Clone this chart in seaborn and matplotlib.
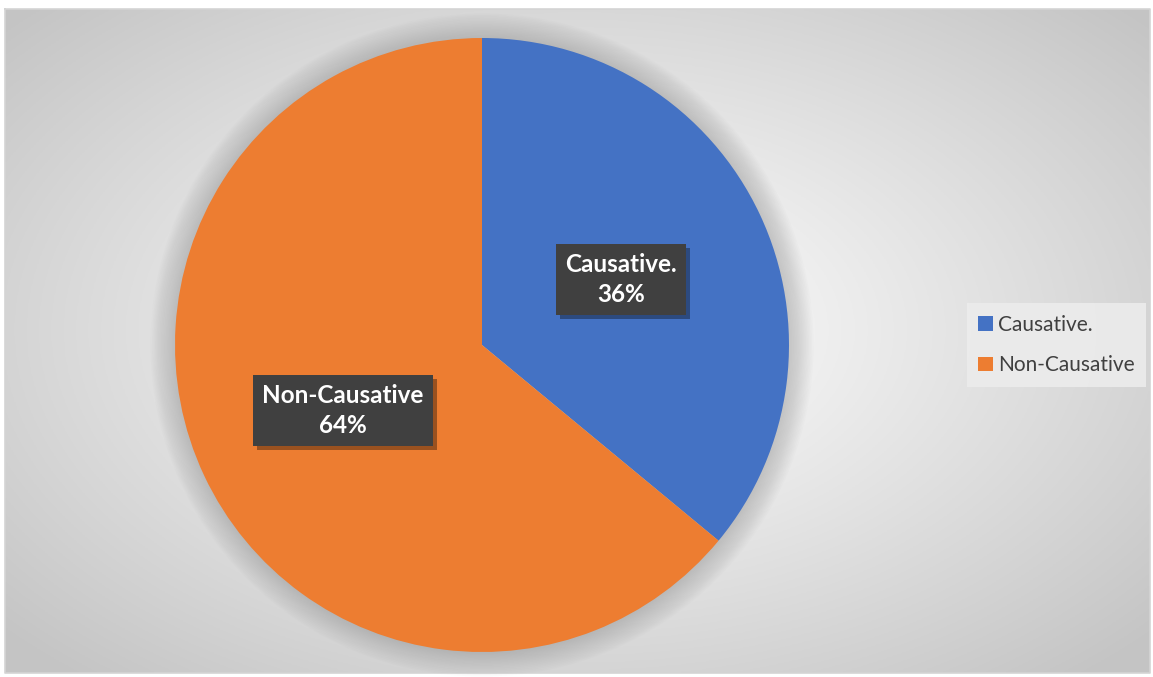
import numpy as np
import matplotlib.pyplot as plt
import matplotlib.patheffects as pe
from matplotlib.patches import Patch, Circle
import seaborn as sns

# data
categories = ['Causative.', 'Non-Causative']
shares = [36, 64]
colors = ['#4472C4', '#ED7D31']

sns.set_theme(style='white')
plt.rcParams['font.family'] = ['Lato', 'DejaVu Sans']

W, H = 1153, 677
fig = plt.figure(figsize=(W / 100, H / 100), dpi=100)
fig.patch.set_facecolor('white')

# background: radial gradient inside the chart frame
bg = fig.add_axes([0, 0, 1, 1])
bg.set_xlim(0, W)
bg.set_ylim(H, 0)
bg.axis('off')
x0, x1, y0, y1 = 5, 1150, 9, 673
xx, yy = np.meshgrid(np.linspace(x0, x1, 400), np.linspace(y0, y1, 250))
cx, cy = 580, 330
d = np.sqrt(((xx - cx) / (x1 - cx)) ** 2 + ((yy - cy) / (y1 - cy)) ** 2) / np.sqrt(2)
d = np.clip(d * 1.05, 0, 1) ** 1.1
shade = 1.0 - d * (1.0 - 0.77)
img = np.dstack([shade, shade, shade])
bg.imshow(img, extent=[x0, x1, y1, y0], aspect='auto', zorder=0)
bg.plot([x0, x1, x1, x0, x0], [y0, y0, y1, y1, y0], color='#d4d4d4', lw=1.2, zorder=1)

# pie
pcx, pcy, r = 482, 345, 307
ax = fig.add_axes([(pcx - r) / W, (H - pcy - r) / H, 2 * r / W, 2 * r / H])
ax.patch.set_alpha(0)

wedges, _ = ax.pie(shares, colors=colors, startangle=90, counterclock=False,
                   radius=1, wedgeprops=dict(linewidth=0))
for w in wedges:
    w.set_zorder(2)

# soft glow around the pie
for k in range(16):
    ax.add_patch(Circle((0, 0), 1 + 0.005 * (16 - k), color='#8a8a8a', alpha=0.028,
                        lw=0, zorder=0, clip_on=False))

ax.set_xlim(-1, 1)
ax.set_ylim(-1, 1)
ax.set_aspect('equal')
ax.axis('off')

for w, cat, val in zip(wedges, categories, shares):
    ang = np.deg2rad((w.theta1 + w.theta2) / 2)
    t = ax.text(0.5 * np.cos(ang), 0.5 * np.sin(ang), f'{cat}\n{val}%',
                ha='center', va='center', color='white', fontsize=17.5,
                fontweight='bold', linespacing=1.35, zorder=5,
                bbox=dict(boxstyle='square,pad=0.38', facecolor='#404040',
                          edgecolor='none'))
    t.get_bbox_patch().set_path_effects([
        pe.SimplePatchShadow(offset=(3, -3), shadow_rgbFace='black', alpha=0.35),
        pe.Normal()])

# legend
handles = [Patch(facecolor=c, edgecolor='none', label=l) for c, l in zip(colors, categories)]
leg = fig.legend(handles=handles, loc='center left', bbox_to_anchor=(967 / W, 1 - 345 / H),
                 frameon=True, fontsize=15, labelcolor='#404040', handlelength=0.7,
                 handleheight=0.7, handletextpad=0.25, labelspacing=1.0,
                 borderpad=0.55, borderaxespad=0, fancybox=False)
leg.get_frame().set_facecolor('#ececec')
leg.get_frame().set_edgecolor('none')
leg.get_frame().set_alpha(0.9)

fig.savefig('out.png', dpi=100)
